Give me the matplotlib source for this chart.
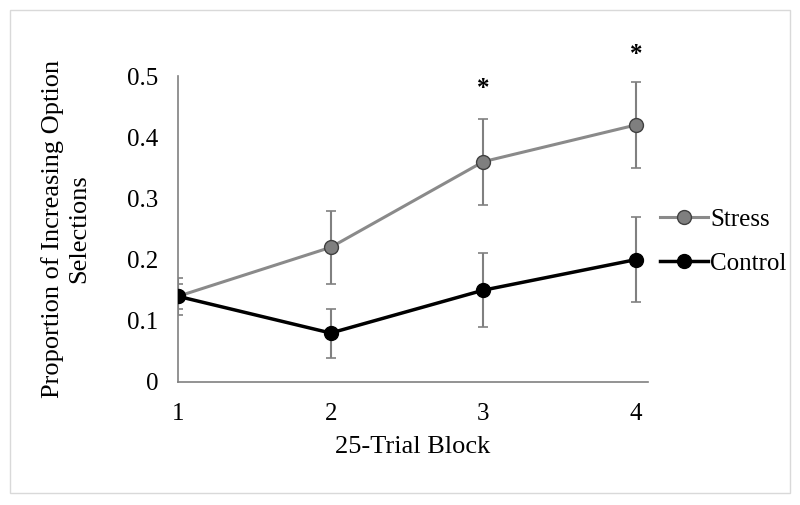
import matplotlib
matplotlib.use("Agg")
import matplotlib.pyplot as plt
from matplotlib.patches import Rectangle

blocks = [1, 2, 3, 4]
stress = [0.14, 0.22, 0.36, 0.42]
stress_err = [0.03, 0.06, 0.07, 0.07]
control = [0.14, 0.08, 0.15, 0.20]
control_err = [0.02, 0.04, 0.06, 0.07]
sig_blocks = [3, 4]
sig_heights = [0.48, 0.535]

plt.rcParams['font.family'] = ['Liberation Serif', 'DejaVu Serif']

fig = plt.figure(figsize=(8, 5.05), dpi=100)
ax = fig.add_axes([0.2225, 0.2436, 0.5875, 0.6059])

err_color = "#808080"
ax.errorbar(blocks, stress, yerr=stress_err, fmt="none", ecolor=err_color,
            elinewidth=1.5, capsize=3.5, capthick=1.2, zorder=2)
ax.errorbar(blocks, control, yerr=control_err, fmt="none", ecolor=err_color,
            elinewidth=1.5, capsize=3.5, capthick=1.2, zorder=2)
ax.plot(blocks, stress, color="#8a8a8a", lw=2.2, marker="o", ms=10,
        mfc="#7f7f7f", mec="#404040", mew=1.0, label="Stress", zorder=3)
ax.plot(blocks, control, color="black", lw=2.5, marker="o", ms=10,
        mfc="black", mec="black", label="Control", zorder=4)

# significance markers above the stress points
for b, h in zip(sig_blocks, sig_heights):
    ax.text(b, h, "*", ha="center", va="center", fontsize=18,
            fontweight="bold", clip_on=False)

ax.set_xlim(1, 4.079)
ax.set_ylim(0, 0.5)
ax.set_xticks(blocks)
ax.set_yticks([0, 0.1, 0.2, 0.3, 0.4, 0.5])
ax.set_yticklabels(["0", "0.1", "0.2", "0.3", "0.4", "0.5"])
ax.tick_params(length=0, labelsize=18)
ax.tick_params(axis="y", pad=14)
ax.tick_params(axis="x", pad=15)
for s in ["top", "right"]:
    ax.spines[s].set_visible(False)
for s in ["left", "bottom"]:
    ax.spines[s].set_color("#808080")
    ax.spines[s].set_linewidth(1.2)

ax.set_xlabel("25-Trial Block", fontsize=19, labelpad=8)
ax.set_ylabel("Proportion of Increasing Option\nSelections", fontsize=19,
              labelpad=27, linespacing=1.2)

fig.legend(loc="center left", bbox_to_anchor=(0.797, 0.522), frameon=False,
           fontsize=18, handlelength=1.9, handletextpad=0.1, labelspacing=0.85)

# light grey frame around the whole figure
fig.patches.append(Rectangle((0.0125, 0.024), 0.975, 0.956, transform=fig.transFigure,
                             fill=False, edgecolor="#d9d9d9", lw=1.0))

fig.savefig("out.png", dpi=100)
